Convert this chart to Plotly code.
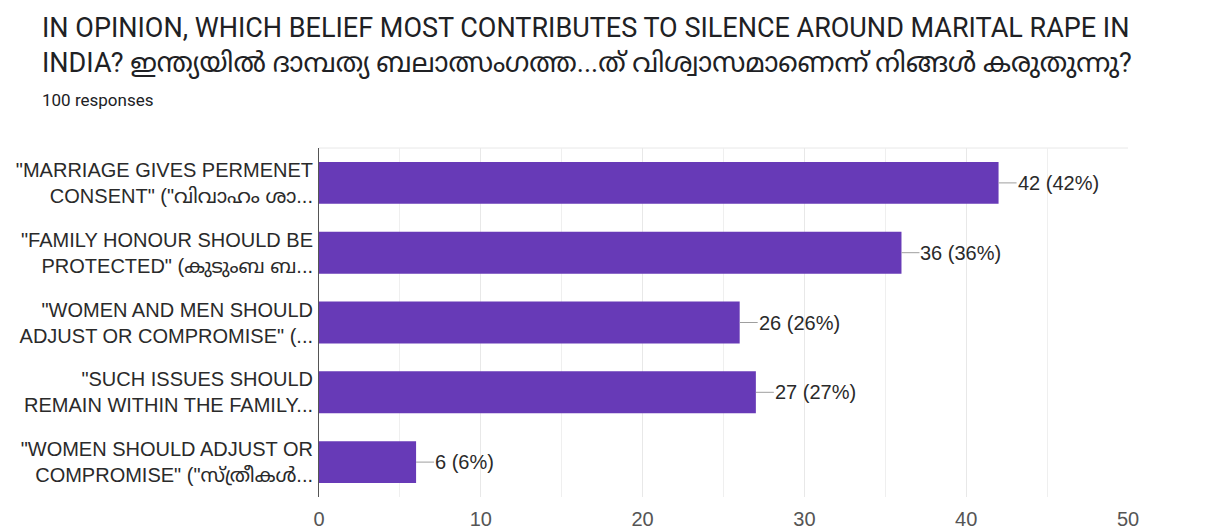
import plotly.graph_objects as go

# Survey answers (display labels, two lines each) and response counts
categories = [
    "\"MARRIAGE GIVES PERMENET<br>CONSENT\" (\"വിവാഹം ശാ...",
    "\"FAMILY HONOUR SHOULD BE<br>PROTECTED\" (കുടുംബ ബ...",
    "\"WOMEN AND MEN SHOULD<br>ADJUST OR COMPROMISE\" (...",
    "\"SUCH ISSUES SHOULD<br>REMAIN WITHIN THE FAMILY...",
    "\"WOMEN SHOULD ADJUST OR<br>COMPROMISE\" (\"സ്ത്രീകൾ...",
]
counts = [42, 36, 26, 27, 6]
total_responses = 100
x_ticks = [0, 10, 20, 30, 40, 50]

title_line1 = "IN OPINION, WHICH BELIEF MOST CONTRIBUTES TO SILENCE AROUND MARITAL RAPE IN"
title_line2 = "INDIA? ഇന്ത്യയിൽ ദാമ്പത്യ ബലാത്സംഗത്ത...ത് വിശ്വാസമാണെന്ന് നിങ്ങൾ കരുതുന്നു?"
subtitle = f"{total_responses} responses"

BAR = "#673ab7"
LABEL_FONT = "Arial, 'Liberation Sans', 'Noto Sans Malayalam', 'Noto Sans', sans-serif"
TITLE_FONT = "Roboto, 'Noto Sans Malayalam', 'Noto Sans', sans-serif"

fig = go.Figure(
    go.Bar(
        x=counts,
        y=categories,
        orientation="h",
        marker=dict(color=BAR, line=dict(width=0)),
        width=0.6,
        hoverinfo="skip",
    )
)

# Value labels with a short leader line from the bar end
for cat, val in zip(categories, counts):
    pct = round(100 * val / total_responses)
    fig.add_annotation(
        x=val, y=cat, xref="x", yref="y",
        text=f"{val} ({pct}%)",
        showarrow=True, arrowhead=0, arrowwidth=1, arrowcolor="#9e9e9e",
        ax=18, ay=0, xanchor="left", yanchor="middle",
        borderpad=0, standoff=0,
        font=dict(family=LABEL_FONT, size=20, color="#2a2a2a"),
    )

# Title block: two title lines and the response count
for text, center_y, size in [(title_line1, 28, 27), (title_line2, 63, 27), (subtitle, 100, 17)]:
    fig.add_annotation(
        xref="paper", yref="paper", x=0, y=1,
        xshift=-279, yshift=148 - center_y, xanchor="left", yanchor="middle",
        text=text, showarrow=False, align="left",
        font=dict(family=TITLE_FONT, size=size, color="#202124"),
    )

# Light top border of the plot area
fig.add_shape(type="line", xref="x", yref="paper", x0=0, x1=50, y0=1, y1=1,
              line=dict(color="#e8e8e8", width=1), layer="below")

fig.update_layout(
    width=1225, height=532,
    margin=dict(l=319, r=97, t=148, b=35, autoexpand=False),
    paper_bgcolor="white", plot_bgcolor="white",
    showlegend=False,
    xaxis=dict(
        range=[0, 50], tickvals=x_ticks, ticks="",
        showgrid=True, gridcolor="#e8e8e8", gridwidth=1,
        minor=dict(dtick=5, tick0=0, showgrid=True, gridcolor="#efefef", gridwidth=1),
        zeroline=False, showline=False, automargin=False,
        tickfont=dict(family=LABEL_FONT, size=20, color="#555555"),
        ticklabelstandoff=8,
    ),
    yaxis=dict(
        autorange="reversed", ticks="", showgrid=False, automargin=False,
        showline=True, linecolor="#555555", linewidth=1,
        tickfont=dict(family=LABEL_FONT, size=20, color="#2a2a2a"),
        ticklabelstandoff=1,
    ),
)

fig.write_html("out.html")
